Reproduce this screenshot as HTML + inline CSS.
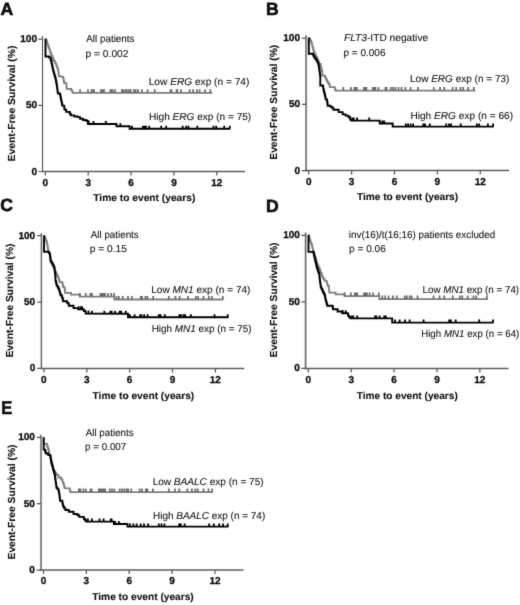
<!DOCTYPE html>
<html><head><meta charset="utf-8"><style>
html,body{margin:0;padding:0;background:#fff;overflow:hidden;}
svg{display:block;filter:grayscale(1);}
text{font-family:"Liberation Sans", sans-serif;fill:#111;text-rendering:geometricPrecision;}
.r{stroke:#222;stroke-width:0.1px;}
.b{font-weight:bold;stroke:#000;stroke-width:0.1px;}
</style></head><body>
<svg width="520" height="605" viewBox="0 0 520 605">
<defs><filter id="soft" x="0" y="0" width="100%" height="100%" filterUnits="userSpaceOnUse" color-interpolation-filters="sRGB"><feConvolveMatrix order="3" kernelMatrix="0.015 0.075 0.015 0.075 0.64 0.075 0.015 0.075 0.015" divisor="1" preserveAlpha="true" edgeMode="duplicate"/></filter></defs>
<g filter="url(#soft)">
<rect width="520" height="605" fill="#fff"/>
<g><text transform="translate(0.6 14.6) scale(1 1)" font-size="17.6" class="b" style="stroke-width:0.6px">A</text>
<path d="M42.5 36V172.2" stroke="#505050" stroke-width="1.1" fill="none"/>
<path d="M42 171.5H245" stroke="#5c5c5c" stroke-width="1.5" fill="none"/>
<path d="M38.3 171.5H42.5M38.3 105.3H42.5M38.3 39.1H42.5M45.3 171.5V175.5M88.17 171.5V175.5M131.04 171.5V175.5M173.91 171.5V175.5M216.78 171.5V175.5" stroke="#555" stroke-width="1.2" fill="none"/>
<text x="37" y="174.5" font-size="10" class="b" style="stroke-width:0.3px" text-anchor="end">0</text>
<text x="37" y="108.3" font-size="10" class="b" style="stroke-width:0.3px" text-anchor="end">50</text>
<text x="37" y="42.1" font-size="10" class="b" style="stroke-width:0.3px" text-anchor="end">100</text>
<text x="45.3" y="186.3" font-size="10" class="b" style="stroke-width:0.3px" text-anchor="middle">0</text>
<text x="88.17" y="186.3" font-size="10" class="b" style="stroke-width:0.3px" text-anchor="middle">3</text>
<text x="131.04" y="186.3" font-size="10" class="b" style="stroke-width:0.3px" text-anchor="middle">6</text>
<text x="173.91" y="186.3" font-size="10" class="b" style="stroke-width:0.3px" text-anchor="middle">9</text>
<text x="216.78" y="186.3" font-size="10" class="b" style="stroke-width:0.3px" text-anchor="middle">12</text>
<text transform="translate(15.4 103.5) rotate(-90) scale(1.02 1)" font-size="10.2" class="b" text-anchor="middle">Event-Free Survival (%)</text>
<text id="A_xl" class="b" font-size="10" text-anchor="middle" transform="translate(144.31 201) scale(1.0229 1)">Time to event (years)</text>
<text id="A_t1" class="r" font-size="10" text-anchor="start" transform="translate(86.26 42.3) scale(0.9851 1)">All patients</text>
<text id="A_t2" class="r" font-size="10" text-anchor="start" transform="translate(85.48 56.5) scale(1.0245 1)">p = 0.002</text>
<text id="A_low" class="r" font-size="10" text-anchor="start" transform="translate(148.7 85) scale(1.0146 1)">Low <tspan font-style="italic">ERG</tspan> exp (n = 74)</text>
<text id="A_high" class="r" font-size="10" text-anchor="start" transform="translate(149.05 119.5) scale(1.0069 1)">High <tspan font-style="italic">ERG</tspan> exp (n = 75)</text>
<path d="M45.5 38.8 L46.17 38.8 L46.17 40.73 L46.83 40.73 L46.83 42.67 L47.5 42.67 L47.5 44.6 L48.18 44.6 L48.18 46.52 L48.86 46.52 L48.86 48.44 L49.54 48.44 L49.54 50.36 L50.22 50.36 L50.22 52.28 L50.9 52.28 L50.9 54.2 L51.62 54.2 L51.62 55.93 L52.35 55.93 L52.35 57.65 L53.07 57.65 L53.07 59.38 L53.8 59.38 L53.8 61.1 L55.05 61.1 L55.05 63.3 L56.3 63.3 L56.3 65.5 L56.93 65.5 L56.93 67.2 L57.57 67.2 L57.57 68.9 L58.2 68.9 L58.2 70.6 L58.4 70.6 L58.4 72.47 L58.6 72.47 L58.6 74.33 L58.8 74.33 L58.8 76.2 L61.3 76.2 L61.3 76.8 L63.2 76.8 L63.2 78.7 L63.65 78.7 L63.65 80.9 L64.1 80.9 L64.1 83.1 L66.3 83.1 L66.3 84.4 L66.45 84.4 L66.45 86.6 L66.6 86.6 L66.6 88.8 L69.5 88.8 L71.3 88.8 L71.3 90.6 L72.6 90.6 L72.6 92.8 L212.3 92.8" stroke="#7e7e7e" stroke-width="1.8" fill="none" stroke-linejoin="miter"/>
<path d="M80.1 92.8V89.2M88 92.8V89.2M91.5 92.8V89.2M92.7 92.8V89.2M93.9 92.8V89.2M101 92.8V89.2M102.7 92.8V89.2M104.2 92.8V89.2M110.4 92.8V89.2M111.5 92.8V89.2M112.7 92.8V89.2M115 92.8V89.2M121.9 92.8V89.2M123.2 92.8V89.2M125.3 92.8V89.2M126.8 92.8V89.2M128.8 92.8V89.2M130.8 92.8V89.2M133.9 92.8V89.2M135.8 92.8V89.2M138.1 92.8V89.2M142 92.8V89.2M147.6 92.8V89.2M154.7 92.8V89.2M170.5 92.8V89.2M171.5 92.8V89.2M176.5 92.8V89.2M177.4 92.8V89.2M181.2 92.8V89.2M189.6 92.8V89.2M193.1 92.8V89.2M196.9 92.8V89.2M199.6 92.8V89.2M205 92.8V89.2M210.4 92.8V89.2" stroke="#6a6a6a" stroke-width="1.7" fill="none"/>
<path d="M45.5 38.8 L45.5 56.5 L49.2 56.5 L49.2 57.5 L50.6 57.5 L50.6 59.9 L51.2 59.9 L51.2 61.5 L51.58 61.5 L51.58 63.32 L51.96 63.32 L51.96 65.14 L52.34 65.14 L52.34 66.96 L52.72 66.96 L52.72 68.78 L53.1 68.78 L53.1 70.6 L53.6 70.6 L53.6 72.34 L54.1 72.34 L54.1 74.08 L54.6 74.08 L54.6 75.82 L55.1 75.82 L55.1 77.56 L55.6 77.56 L55.6 79.3 L55.92 79.3 L55.92 81.03 L56.25 81.03 L56.25 82.75 L56.58 82.75 L56.58 84.47 L56.9 84.47 L56.9 86.2 L57.12 86.2 L57.12 88.03 L57.35 88.03 L57.35 89.85 L57.57 89.85 L57.57 91.67 L57.8 91.67 L57.8 93.5 L59.9 93.5 L60.17 93.5 L60.17 95.03 L60.43 95.03 L60.43 96.57 L60.7 96.57 L60.7 98.1 L61.08 98.1 L61.08 99.97 L61.45 99.97 L61.45 101.85 L61.83 101.85 L61.83 103.72 L62.2 103.72 L62.2 105.6 L63.9 105.6 L64.2 105.6 L64.2 107.6 L64.5 107.6 L64.5 109.6 L66.2 109.6 L66.2 111.9 L69.7 111.9 L69.7 113.7 L70.8 113.7 L70.8 115.4 L74.3 115.4 L74.3 116.5 L77.8 116.5 L77.8 117.1 L80.1 117.1 L80.1 118.8 L83 118.8 L83 120 L86.4 120 L86.4 121 L88 121 L88 124 L116.5 124 L116.5 126.2 L129.6 126.2 L129.6 128.8 L230.2 128.8" stroke="#000" stroke-width="1.9" fill="none" stroke-linejoin="miter"/>
<path d="M88.8 124V121M93.5 124V121M105.8 124V121M120.4 126.2V123.2M131.9 128.8V125.8M143 128.8V125.8M144.5 128.8V125.8M146 128.8V125.8M149.2 128.8V125.8M161.2 128.8V125.8M166.2 128.8V125.8M182.7 128.8V125.8M186.2 128.8V125.8M188.5 128.8V125.8M197.3 128.8V125.8M213.5 128.8V125.8M216.2 128.8V125.8M224.2 128.8V125.8M229.8 128.8V125.8" stroke="#000" stroke-width="1.8" fill="none"/></g>
<g><text transform="translate(266 14.6) scale(1 1)" font-size="17.6" class="b" style="stroke-width:0.6px">B</text>
<path d="M306.1 35.3V171.3" stroke="#888" stroke-width="2.1" fill="none"/>
<path d="M305.6 170.6H509" stroke="#5c5c5c" stroke-width="1.5" fill="none"/>
<path d="M301.9 170.6H306.1M301.9 104.4H306.1M301.9 38.2H306.1M308.75 170.6V174.6M351.62 170.6V174.6M394.49 170.6V174.6M437.36 170.6V174.6M480.23 170.6V174.6" stroke="#555" stroke-width="1.2" fill="none"/>
<text x="300" y="173.6" font-size="10" class="b" style="stroke-width:0.3px" text-anchor="end">0</text>
<text x="300" y="107.4" font-size="10" class="b" style="stroke-width:0.3px" text-anchor="end">50</text>
<text x="300" y="41.2" font-size="10" class="b" style="stroke-width:0.3px" text-anchor="end">100</text>
<text x="308.75" y="185.1" font-size="10" class="b" style="stroke-width:0.3px" text-anchor="middle">0</text>
<text x="351.62" y="185.1" font-size="10" class="b" style="stroke-width:0.3px" text-anchor="middle">3</text>
<text x="394.49" y="185.1" font-size="10" class="b" style="stroke-width:0.3px" text-anchor="middle">6</text>
<text x="437.36" y="185.1" font-size="10" class="b" style="stroke-width:0.3px" text-anchor="middle">9</text>
<text x="480.23" y="185.1" font-size="10" class="b" style="stroke-width:0.3px" text-anchor="middle">12</text>
<text transform="translate(277.3 102.25) rotate(-90) scale(1.01 1)" font-size="10.2" class="b" text-anchor="middle">Event-Free Survival (%)</text>
<text id="B_xl" class="b" font-size="10" text-anchor="middle" transform="translate(407.54 199.8) scale(1.0130 1)">Time to event (years)</text>
<text id="B_t1" class="r" font-size="10" text-anchor="start" transform="translate(343.92 41.2) scale(1.0192 1)"><tspan font-style="italic">FLT3</tspan>-ITD negative</text>
<text id="B_t2" class="r" font-size="10" text-anchor="start" transform="translate(343.42 55.8) scale(1.0023 1)">p = 0.006</text>
<text id="B_low" class="r" font-size="10" text-anchor="start" transform="translate(410.01 82) scale(1.0013 1)">Low <tspan font-style="italic">ERG</tspan> exp (n = 73)</text>
<text id="B_high" class="r" font-size="10" text-anchor="start" transform="translate(410.43 118.9) scale(1.0114 1)">High <tspan font-style="italic">ERG</tspan> exp (n = 66)</text>
<path d="M308.8 37.8 L309.63 37.8 L309.63 39.43 L310.47 39.43 L310.47 41.07 L311.3 41.07 L311.3 42.7 L311.78 42.7 L311.78 44.42 L312.26 44.42 L312.26 46.14 L312.74 46.14 L312.74 47.86 L313.22 47.86 L313.22 49.58 L313.7 49.58 L313.7 51.3 L314.35 51.3 L314.35 53.15 L315 53.15 L315 55 L316 55 L316 57.05 L317 57.05 L317 59.1 L317.7 59.1 L317.7 60.73 L318.4 60.73 L318.4 62.37 L319.1 62.37 L319.1 64 L320.7 64 L320.7 66.5 L321.12 66.5 L321.12 68.15 L321.55 68.15 L321.55 69.8 L321.97 69.8 L321.97 71.45 L322.4 71.45 L322.4 73.1 L322.4 75.6 L324.9 75.6 L324.9 77.3 L325.9 77.3 L325.9 79.35 L326.9 79.35 L326.9 81.4 L327.95 81.4 L327.95 83.05 L329 83.05 L329 84.7 L329.8 84.7 L329.8 87.2 L333.1 87.2 L334.8 87.2 L334.8 89.7 L335.6 89.7 L335.6 90.7 L475.4 90.7" stroke="#7e7e7e" stroke-width="1.8" fill="none" stroke-linejoin="miter"/>
<path d="M343.3 90.7V87.1M351 90.7V87.1M354.5 90.7V87.1M355.7 90.7V87.1M356.8 90.7V87.1M364 90.7V87.1M365.2 90.7V87.1M366.3 90.7V87.1M373 90.7V87.1M374.3 90.7V87.1M375.5 90.7V87.1M378.5 90.7V87.1M385.4 90.7V87.1M386.6 90.7V87.1M390.8 90.7V87.1M393.1 90.7V87.1M395.4 90.7V87.1M398.5 90.7V87.1M401.5 90.7V87.1M405.4 90.7V87.1M410.5 90.7V87.1M418 90.7V87.1M433.8 90.7V87.1M440 90.7V87.1M444.2 90.7V87.1M452.7 90.7V87.1M456.2 90.7V87.1M460.4 90.7V87.1M463.1 90.7V87.1M468.1 90.7V87.1M473.8 90.7V87.1" stroke="#6a6a6a" stroke-width="1.7" fill="none"/>
<path d="M308.8 37.8 L308.8 53.8 L312.4 53.8 L313.25 53.8 L313.25 55.6 L314.1 55.6 L314.1 57.4 L315.35 57.4 L315.35 59.05 L316.6 59.05 L316.6 60.7 L317.45 60.7 L317.45 62.35 L318.3 62.35 L318.3 64 L318.6 64 L318.6 65.88 L318.9 65.88 L318.9 67.75 L319.2 67.75 L319.2 69.62 L319.5 69.62 L319.5 71.5 L319.77 71.5 L319.77 73.43 L320.03 73.43 L320.03 75.37 L320.3 75.37 L320.3 77.3 L320.3 85.5 L322.8 85.5 L323.07 85.5 L323.07 87.17 L323.33 87.17 L323.33 88.83 L323.6 88.83 L323.6 90.5 L324.03 90.5 L324.03 92.15 L324.45 92.15 L324.45 93.8 L324.88 93.8 L324.88 95.45 L325.3 95.45 L325.3 97.1 L325.6 97.1 L325.6 99.4 L326.8 99.4 L327.02 99.4 L327.02 101 L327.25 101 L327.25 102.6 L327.48 102.6 L327.48 104.2 L327.7 104.2 L327.7 105.8 L329.4 105.8 L330.6 105.8 L330.6 106.9 L332.3 106.9 L332.3 108.1 L333.5 108.1 L333.5 109.8 L337.5 109.8 L338.7 109.8 L338.7 112.1 L341.5 112.1 L342.7 112.1 L342.7 114.4 L345.6 114.4 L345.6 115.6 L348.5 115.6 L348.5 117.3 L350.2 117.3 L350.2 119.6 L351.3 119.6 L351.3 120.6 L379.7 120.6 L379.7 123.5 L392.7 123.5 L392.7 126.6 L493.7 126.6" stroke="#000" stroke-width="1.9" fill="none" stroke-linejoin="miter"/>
<path d="M352.5 120.6V117.6M353.7 120.6V117.6M357.1 120.6V117.6M369.2 120.6V117.6M382.3 123.5V120.5M384.2 123.5V120.5M405.8 126.6V123.6M408.1 126.6V123.6M410.6 126.6V123.6M413.1 126.6V123.6M423.3 126.6V123.6M425 126.6V123.6M429.8 126.6V123.6M446.2 126.6V123.6M449 126.6V123.6M451 126.6V123.6M460.7 126.6V123.6M476.9 126.6V123.6M479.2 126.6V123.6M487.9 126.6V123.6M493.1 126.6V123.6" stroke="#000" stroke-width="1.8" fill="none"/></g>
<g><text transform="translate(0.2 211.4) scale(1 1)" font-size="17.6" class="b" style="stroke-width:0.6px">C</text>
<path d="M41.4 233.1V369.1" stroke="#646464" stroke-width="1.5" fill="none"/>
<path d="M40.9 368.4H244.3" stroke="#5c5c5c" stroke-width="1.5" fill="none"/>
<path d="M37.2 368.4H41.4M37.2 302.05H41.4M37.2 235.7H41.4M43.9 368.4V372.4M86.77 368.4V372.4M129.64 368.4V372.4M172.51 368.4V372.4M215.38 368.4V372.4" stroke="#555" stroke-width="1.2" fill="none"/>
<text x="35.2" y="371.4" font-size="10" class="b" style="stroke-width:0.3px" text-anchor="end">0</text>
<text x="35.2" y="305.05" font-size="10" class="b" style="stroke-width:0.3px" text-anchor="end">50</text>
<text x="35.2" y="238.7" font-size="10" class="b" style="stroke-width:0.3px" text-anchor="end">100</text>
<text x="43.9" y="383.4" font-size="10" class="b" style="stroke-width:0.3px" text-anchor="middle">0</text>
<text x="86.77" y="383.4" font-size="10" class="b" style="stroke-width:0.3px" text-anchor="middle">3</text>
<text x="129.64" y="383.4" font-size="10" class="b" style="stroke-width:0.3px" text-anchor="middle">6</text>
<text x="172.51" y="383.4" font-size="10" class="b" style="stroke-width:0.3px" text-anchor="middle">9</text>
<text x="215.38" y="383.4" font-size="10" class="b" style="stroke-width:0.3px" text-anchor="middle">12</text>
<text transform="translate(12.8 300.55) rotate(-90) scale(1 1)" font-size="10.2" class="b" text-anchor="middle">Event-Free Survival (%)</text>
<text id="C_xl" class="b" font-size="10" text-anchor="middle" transform="translate(143.41 399.2) scale(1.0184 1)">Time to event (years)</text>
<text id="C_t1" class="r" font-size="10" text-anchor="start" transform="translate(90.77 237.7) scale(0.9804 1)">All patients</text>
<text id="C_t2" class="r" font-size="10" text-anchor="start" transform="translate(89.69 251.9) scale(1.0231 1)">p = 0.15</text>
<text id="C_low" class="r" font-size="10" text-anchor="start" transform="translate(151.2 292.7) scale(1.0055 1)">Low <tspan font-style="italic">MN1</tspan> exp (n = 74)</text>
<text id="C_high" class="r" font-size="10" text-anchor="start" transform="translate(151.64 332.1) scale(0.9900 1)">High <tspan font-style="italic">MN1</tspan> exp (n = 75)</text>
<path d="M44 235.6 L44.75 235.6 L44.75 237.55 L45.5 237.55 L45.5 239.5 L46.05 239.5 L46.05 240.95 L46.6 240.95 L46.6 242.4 L47.05 242.4 L47.05 244.4 L47.5 244.4 L47.5 246.4 L47.8 246.4 L47.8 248.45 L48.1 248.45 L48.1 250.5 L48.3 251.8 L49.1 251.8 L49.1 253.4 L49.9 253.4 L49.9 255 L50.1 255 L50.1 256.65 L50.3 256.65 L50.3 258.3 L50.5 258.3 L50.5 259.95 L50.7 259.95 L50.7 261.6 L51.7 261.6 L51.7 263.25 L52.7 263.25 L52.7 264.9 L53.5 264.9 L53.5 266.6 L54.3 266.6 L54.3 268.3 L54.75 268.3 L54.75 270.15 L55.2 270.15 L55.2 272 L56.2 272 L56.2 274 L57.15 274 L57.15 275.85 L58.1 275.85 L58.1 277.7 L58.85 277.7 L58.85 279.9 L59.6 279.9 L59.6 282.1 L62.2 282.1 L62.2 282.8 L62.65 282.8 L62.65 285 L63.1 285 L63.1 287.2 L64.7 287.2 L64.7 289 L64.85 289 L64.85 290.9 L65 290.9 L65 292.8 L70.5 292.8 L71 292.8 L71 294.7 L79.5 294.7 L79.8 294.7 L79.8 296.6 L114.3 296.6 L114.3 299.5 L223.4 299.5" stroke="#7e7e7e" stroke-width="1.8" fill="none" stroke-linejoin="miter"/>
<path d="M79.8 296.6V293M85.8 296.6V293M90.4 296.6V293M91.9 296.6V293M100.4 296.6V293M101.9 296.6V293M103.5 296.6V293M105 296.6V293M108 296.6V293M111.2 296.6V293M114.1 296.6V293M116.5 299.5V295.9M118.8 299.5V295.9M122.7 299.5V295.9M128 299.5V295.9M131.9 299.5V295.9M140.7 299.5V295.9M142 299.5V295.9M145.4 299.5V295.9M147.4 299.5V295.9M153.1 299.5V295.9M168.8 299.5V295.9M175.4 299.5V295.9M179.6 299.5V295.9M187.9 299.5V295.9M195.8 299.5V295.9M198.1 299.5V295.9M203.5 299.5V295.9M208.8 299.5V295.9M211.9 299.5V295.9M222.8 299.5V295.9" stroke="#6a6a6a" stroke-width="1.7" fill="none"/>
<path d="M44 235.6 L44 251.8 L48.3 251.8 L49.1 251.8 L49.1 253.4 L49.9 253.4 L49.9 255 L50.1 255 L50.1 256.65 L50.3 256.65 L50.3 258.3 L50.5 258.3 L50.5 259.95 L50.7 259.95 L50.7 261.6 L51.7 261.6 L51.7 263.25 L52.7 263.25 L52.7 264.9 L53.5 264.9 L53.5 266.6 L54.3 266.6 L54.3 268.3 L54.52 268.3 L54.52 269.88 L54.75 269.88 L54.75 271.45 L54.98 271.45 L54.98 273.03 L55.2 273.03 L55.2 274.6 L55.3 274.6 L55.3 276.7 L55.4 276.7 L55.4 278.8 L55.5 278.8 L55.5 280.9 L55.93 280.9 L55.93 282.57 L56.37 282.57 L56.37 284.23 L56.8 284.23 L56.8 285.9 L57.75 285.9 L57.75 287.45 L58.7 287.45 L58.7 289 L59.23 289 L59.23 290.9 L59.77 290.9 L59.77 292.8 L60.3 292.8 L60.3 294.7 L61.5 294.7 L61.5 296.3 L62.15 296.3 L62.15 298 L62.8 298 L62.8 299.7 L63.1 299.7 L63.1 301.2 L65.4 301.2 L67.1 301.2 L67.1 302.9 L68.3 302.9 L68.55 302.9 L68.55 304.35 L68.8 304.35 L68.8 305.8 L72.3 305.8 L73.5 305.8 L73.5 308.1 L76.9 308.1 L78.1 308.1 L78.1 309.2 L82.7 309.2 L83.8 309.2 L83.8 311 L85.6 311 L85.6 313.6 L128 313.8 L128 317.2 L228.5 317.2" stroke="#000" stroke-width="1.9" fill="none" stroke-linejoin="miter"/>
<path d="M78.7 309.2V306.2M81 309.2V306.2M82.1 309.2V306.2M88.5 313.61V310.61M91.9 313.63V310.63M104.3 313.69V310.69M110.4 313.72V310.72M111.7 313.72V310.72M115.1 313.74V310.74M119.6 313.76V310.76M121.1 313.77V310.77M125.8 313.79V310.79M129.8 317.2V314.2M134.6 317.2V314.2M140.2 317.2V314.2M141.4 317.2V314.2M144.2 317.2V314.2M147.6 317.2V314.2M158.8 317.2V314.2M160.4 317.2V314.2M164.8 317.2V314.2M179.4 317.2V314.2M181 317.2V314.2M183.5 317.2V314.2M185.1 317.2V314.2M190.8 317.2V314.2M214.5 317.2V314.2M227.7 317.2V314.2" stroke="#000" stroke-width="1.8" fill="none"/></g>
<g><text transform="translate(266 211.6) scale(1 1)" font-size="17.6" class="b" style="stroke-width:0.6px">D</text>
<path d="M305.6 232.5V369.1" stroke="#686868" stroke-width="1.7" fill="none"/>
<path d="M305.1 368.4H508.5" stroke="#5c5c5c" stroke-width="1.5" fill="none"/>
<path d="M301.4 368.4H305.6M301.4 301.9H305.6M301.4 235.4H305.6M308.35 368.4V372.4M351.22 368.4V372.4M394.09 368.4V372.4M436.96 368.4V372.4M479.83 368.4V372.4" stroke="#555" stroke-width="1.2" fill="none"/>
<text x="299.9" y="371.4" font-size="10" class="b" style="stroke-width:0.3px" text-anchor="end">0</text>
<text x="299.9" y="304.9" font-size="10" class="b" style="stroke-width:0.3px" text-anchor="end">50</text>
<text x="299.9" y="238.4" font-size="10" class="b" style="stroke-width:0.3px" text-anchor="end">100</text>
<text x="308.35" y="382.5" font-size="10" class="b" style="stroke-width:0.3px" text-anchor="middle">0</text>
<text x="351.22" y="382.5" font-size="10" class="b" style="stroke-width:0.3px" text-anchor="middle">3</text>
<text x="394.09" y="382.5" font-size="10" class="b" style="stroke-width:0.3px" text-anchor="middle">6</text>
<text x="436.96" y="382.5" font-size="10" class="b" style="stroke-width:0.3px" text-anchor="middle">9</text>
<text x="479.83" y="382.5" font-size="10" class="b" style="stroke-width:0.3px" text-anchor="middle">12</text>
<text transform="translate(276.9 299.95) rotate(-90) scale(1.01 1)" font-size="10.2" class="b" text-anchor="middle">Event-Free Survival (%)</text>
<text id="D_xl" class="b" font-size="10" text-anchor="middle" transform="translate(407.21 398.8) scale(1.0124 1)">Time to event (years)</text>
<text id="D_t1" class="r" font-size="10" text-anchor="start" transform="translate(348.87 238) scale(0.9868 1)">inv(16)/t(16;16) patients excluded</text>
<text id="D_t2" class="r" font-size="10" text-anchor="start" transform="translate(349 252.1) scale(1.0116 1)">p = 0.06</text>
<text id="D_low" class="r" font-size="10" text-anchor="start" transform="translate(422.61 292.7) scale(0.9777 1)">Low <tspan font-style="italic">MN1</tspan> exp (n = 74)</text>
<text id="D_high" class="r" font-size="10" text-anchor="start" transform="translate(421.16 336.8) scale(0.9731 1)">High <tspan font-style="italic">MN1</tspan> exp (n = 64)</text>
<path d="M308.5 235 L308.95 235 L308.95 236.7 L309.4 236.7 L309.4 238.4 L309.85 238.4 L309.85 240.1 L310.3 240.1 L310.3 241.8 L311.05 241.8 L311.05 243.55 L311.8 243.55 L311.8 245.3 L312.17 245.3 L312.17 247.03 L312.53 247.03 L312.53 248.77 L312.9 248.77 L312.9 250.5 L313.5 250.5 L313.5 252 L314 252 L314 254 L314.5 254 L314.5 256 L315.25 256 L315.25 258 L316 258 L316 260 L316.5 260 L316.5 261.95 L317 261.95 L317 263.9 L317.8 263.9 L317.8 265.77 L318.6 265.77 L318.6 267.65 L319.4 267.65 L319.4 269.52 L320.2 269.52 L320.2 271.4 L320.82 271.4 L320.82 272.97 L321.45 272.97 L321.45 274.55 L322.07 274.55 L322.07 276.12 L322.7 276.12 L322.7 277.7 L323.65 277.7 L323.65 279.3 L324.6 279.3 L324.6 280.9 L326.8 280.9 L326.8 282.8 L327.25 282.8 L327.25 284.35 L327.7 284.35 L327.7 285.9 L329 285.9 L329 288.4 L329.15 288.4 L329.15 290.55 L329.3 290.55 L329.3 292.7 L335.1 292.7 L335.6 292.7 L335.6 294.4 L344.2 294.4 L344.6 294.4 L344.6 296.2 L379.2 296.2 L379.2 299.2 L487.7 299.2" stroke="#7e7e7e" stroke-width="1.8" fill="none" stroke-linejoin="miter"/>
<path d="M344.5 295.75V292.15M350.9 296.2V292.6M354.9 296.2V292.6M356.1 296.2V292.6M357.2 296.2V292.6M364 296.2V292.6M365.3 296.2V292.6M367 296.2V292.6M369.6 296.2V292.6M373 296.2V292.6M378.8 296.2V292.6M382.3 299.2V295.6M385.1 299.2V295.6M388.5 299.2V295.6M392.8 299.2V295.6M396.7 299.2V295.6M404.8 299.2V295.6M406.8 299.2V295.6M409.7 299.2V295.6M411.6 299.2V295.6M417.5 299.2V295.6M433.5 299.2V295.6M439.6 299.2V295.6M444.2 299.2V295.6M452.7 299.2V295.6M460 299.2V295.6M462.3 299.2V295.6M467.7 299.2V295.6M473.5 299.2V295.6M476.2 299.2V295.6M486.9 299.2V295.6" stroke="#6a6a6a" stroke-width="1.7" fill="none"/>
<path d="M308.5 235 L308.5 251.9 L313.2 251.9 L313.57 251.9 L313.57 253.47 L313.93 253.47 L313.93 255.03 L314.3 255.03 L314.3 256.6 L314.7 256.6 L314.7 258.4 L315.1 258.4 L315.1 260.2 L315.5 260.2 L315.5 262 L315.88 262 L315.88 263.57 L316.25 263.57 L316.25 265.15 L316.62 265.15 L316.62 266.73 L317 266.73 L317 268.3 L317.55 268.3 L317.55 269.88 L318.1 269.88 L318.1 271.45 L318.65 271.45 L318.65 273.03 L319.2 273.03 L319.2 274.6 L319.43 274.6 L319.43 276.7 L319.67 276.7 L319.67 278.8 L319.9 278.8 L319.9 280.9 L320.12 280.9 L320.12 282.47 L320.35 282.47 L320.35 284.05 L320.57 284.05 L320.57 285.62 L320.8 285.62 L320.8 287.2 L321.53 287.2 L321.53 288.87 L322.27 288.87 L322.27 290.53 L323 290.53 L323 292.2 L323.8 292.2 L323.8 293.75 L324.6 293.75 L324.6 295.3 L325.05 295.3 L325.05 297.5 L325.5 297.5 L325.5 299.7 L325.9 299.7 L325.9 301.1 L326.3 301.1 L326.3 302.5 L326.75 302.5 L326.75 304.15 L327.2 304.15 L327.2 305.8 L332.4 305.8 L332.7 305.8 L332.7 307.5 L333 307.5 L333 309.2 L337 309.2 L337.6 309.2 L337.6 311.5 L341.1 311.5 L342.2 311.5 L342.2 313.3 L346.3 313.3 L348 313.3 L348 315.6 L349.15 315.6 L349.15 317 L350.3 317 L350.3 318.4 L392.2 318.4 L392.2 322.6 L493.5 322.6" stroke="#000" stroke-width="1.9" fill="none" stroke-linejoin="miter"/>
<path d="M342.8 313.3V310.3M345.7 313.3V310.3M352 318.4V315.4M353.2 318.4V315.4M357.2 318.4V315.4M375.1 318.4V315.4M376.4 318.4V315.4M379.6 318.4V315.4M384.2 318.4V315.4M385.8 318.4V315.4M395 322.6V319.6M399.6 322.6V319.6M405 322.6V319.6M409.6 322.6V319.6M423.6 322.6V319.6M449.2 322.6V319.6M450.8 322.6V319.6M455.7 322.6V319.6M479.2 322.6V319.6M493.1 322.6V319.6" stroke="#000" stroke-width="1.8" fill="none"/></g>
<g><text transform="translate(1.3 413.8) scale(0.89 1)" font-size="18.6" class="b" style="stroke-width:0.6px">E</text>
<path d="M41 434.5V570.8" stroke="#8c8c8c" stroke-width="2.1" fill="none"/>
<path d="M40.5 570.1H243.5" stroke="#5c5c5c" stroke-width="1.5" fill="none"/>
<path d="M36.8 570.1H41M36.8 503.7H41M36.8 437.3H41M43.5 570.1V574.1M86.37 570.1V574.1M129.24 570.1V574.1M172.11 570.1V574.1M214.98 570.1V574.1" stroke="#555" stroke-width="1.2" fill="none"/>
<text x="34.9" y="573.1" font-size="10" class="b" style="stroke-width:0.3px" text-anchor="end">0</text>
<text x="34.9" y="506.7" font-size="10" class="b" style="stroke-width:0.3px" text-anchor="end">50</text>
<text x="34.9" y="440.3" font-size="10" class="b" style="stroke-width:0.3px" text-anchor="end">100</text>
<text x="43.5" y="584.2" font-size="10" class="b" style="stroke-width:0.3px" text-anchor="middle">0</text>
<text x="86.37" y="584.2" font-size="10" class="b" style="stroke-width:0.3px" text-anchor="middle">3</text>
<text x="129.24" y="584.2" font-size="10" class="b" style="stroke-width:0.3px" text-anchor="middle">6</text>
<text x="172.11" y="584.2" font-size="10" class="b" style="stroke-width:0.3px" text-anchor="middle">9</text>
<text x="214.98" y="584.2" font-size="10" class="b" style="stroke-width:0.3px" text-anchor="middle">12</text>
<text transform="translate(14.9 502) rotate(-90) scale(1.01 1)" font-size="10.2" class="b" text-anchor="middle">Event-Free Survival (%)</text>
<text id="E_xl" class="b" font-size="10" text-anchor="middle" transform="translate(143 600.4) scale(1.0164 1)">Time to event (years)</text>
<text id="E_t1" class="r" font-size="10" text-anchor="start" transform="translate(85.77 435.8) scale(0.9784 1)">All patients</text>
<text id="E_t2" class="r" font-size="10" text-anchor="start" transform="translate(85.02 450.2) scale(0.9830 1)">p = 0.007</text>
<text id="E_low" class="r" font-size="10" text-anchor="start" transform="translate(152.63 485.1) scale(1.0055 1)">Low <tspan font-style="italic">BAALC</tspan> exp (n = 75)</text>
<text id="E_high" class="r" font-size="10" text-anchor="start" transform="translate(153.01 518.9) scale(0.9967 1)">High <tspan font-style="italic">BAALC</tspan> exp (n = 74)</text>
<path d="M43.7 437.3 L43.7 443.8 L46.2 443.8 L47 443.8 L47 446.5 L48 446.5 L48 449 L48.8 449 L48.8 451.4 L49.15 451.4 L49.15 453.25 L49.5 453.25 L49.5 455.1 L50.4 455.1 L50.4 457 L50.65 457 L50.65 458.5 L50.9 458.5 L50.9 460 L51.25 460 L51.25 461.5 L51.6 461.5 L51.6 463 L52.03 463 L52.03 464.87 L52.47 464.87 L52.47 466.73 L52.9 466.73 L52.9 468.6 L53.45 468.6 L53.45 470 L54 470 L54 471.4 L55.25 471.4 L55.25 473.2 L56.5 473.2 L56.5 475 L58.5 475 L58.5 477.5 L61.1 477.5 L61.1 479.5 L62.5 479.5 L62.5 482 L63.15 482 L63.15 483.5 L63.8 483.5 L63.8 485 L64.2 485 L64.2 486.6 L64.6 486.6 L64.6 488.2 L68.3 488.4 L69.8 488.4 L69.8 490.3 L70.4 490.3 L70.4 492.1 L213.1 492.1" stroke="#7e7e7e" stroke-width="1.8" fill="none" stroke-linejoin="miter"/>
<path d="M78.9 492.1V488.5M80.5 492.1V488.5M83.5 492.1V488.5M85.8 492.1V488.5M90.5 492.1V488.5M91.7 492.1V488.5M98.9 492.1V488.5M100.5 492.1V488.5M102 492.1V488.5M103.5 492.1V488.5M105.1 492.1V488.5M109.7 492.1V488.5M112 492.1V488.5M114.3 492.1V488.5M119.7 492.1V488.5M122 492.1V488.5M124.3 492.1V488.5M126.6 492.1V488.5M128.2 492.1V488.5M131.2 492.1V488.5M139.7 492.1V488.5M142 492.1V488.5M145.8 492.1V488.5M147.4 492.1V488.5M152.9 492.1V488.5M168.8 492.1V488.5M175 492.1V488.5M179.2 492.1V488.5M187.3 492.1V488.5M191.9 492.1V488.5M195.4 492.1V488.5M197.7 492.1V488.5M203.5 492.1V488.5M208.5 492.1V488.5M212.2 492.1V488.5" stroke="#6a6a6a" stroke-width="1.7" fill="none"/>
<path d="M43.7 437.3 L43.7 449.6 L45.1 449.6 L45.1 451 L45.6 451 L45.6 453.3 L47.4 453.3 L47.4 453.8 L48.1 453.8 L48.1 454.9 L49.5 455.1 L50.4 455.1 L50.4 457 L50.65 457 L50.65 458.5 L50.9 458.5 L50.9 460 L51.2 460 L51.2 462.4 L51.77 462.4 L51.77 464.47 L52.33 464.47 L52.33 466.53 L52.9 466.53 L52.9 468.6 L53.35 468.6 L53.35 470.2 L53.8 470.2 L53.8 471.8 L54.25 471.8 L54.25 473.4 L54.7 473.4 L54.7 475 L54.93 475 L54.93 476.6 L55.15 476.6 L55.15 478.2 L55.38 478.2 L55.38 479.8 L55.6 479.8 L55.6 481.4 L55.83 481.4 L55.83 482.97 L56.05 482.97 L56.05 484.55 L56.27 484.55 L56.27 486.12 L56.5 486.12 L56.5 487.7 L57.5 487.7 L57.5 489.1 L58.5 489.1 L58.5 490.5 L58.83 490.5 L58.83 492.3 L59.17 492.3 L59.17 494.1 L59.5 494.1 L59.5 495.9 L59.67 495.9 L59.67 497.53 L59.83 497.53 L59.83 499.17 L60 499.17 L60 500.8 L61.9 500.8 L62.3 500.8 L62.3 502.7 L62.7 502.7 L62.7 504.6 L63.1 504.6 L63.1 506.5 L64.25 506.5 L64.25 508.25 L65.4 508.25 L65.4 510 L67.7 510 L68.8 510 L68.8 511.7 L72.3 511.7 L73.5 511.7 L73.5 514 L76.3 514 L77.5 514 L77.5 515.2 L79.2 515.2 L79.2 516.9 L82.7 516.9 L83.8 516.9 L83.8 518.9 L85 518.9 L85 520.25 L86.2 520.25 L86.2 521.6 L113.9 521.6 L113.9 524 L127.5 524 L127.5 526.6 L228.5 526.6" stroke="#000" stroke-width="1.9" fill="none" stroke-linejoin="miter"/>
<path d="M87.9 521.6V518.6M91.9 521.6V518.6M99.5 521.6V518.6M103.6 521.6V518.6M110.8 521.6V518.6M111.6 521.6V518.6M115 524V521M118.8 524V521M130 526.6V523.6M133.4 526.6V523.6M136.6 526.6V523.6M140.7 526.6V523.6M144 526.6V523.6M148.1 526.6V523.6M158.8 526.6V523.6M161.5 526.6V523.6M164.4 526.6V523.6M179.2 526.6V523.6M180.8 526.6V523.6M184.6 526.6V523.6M209.2 526.6V523.6M213.8 526.6V523.6M219.2 526.6V523.6M223.1 526.6V523.6M227.7 526.6V523.6" stroke="#000" stroke-width="1.8" fill="none"/></g>
</g>
</svg>
</body></html>
